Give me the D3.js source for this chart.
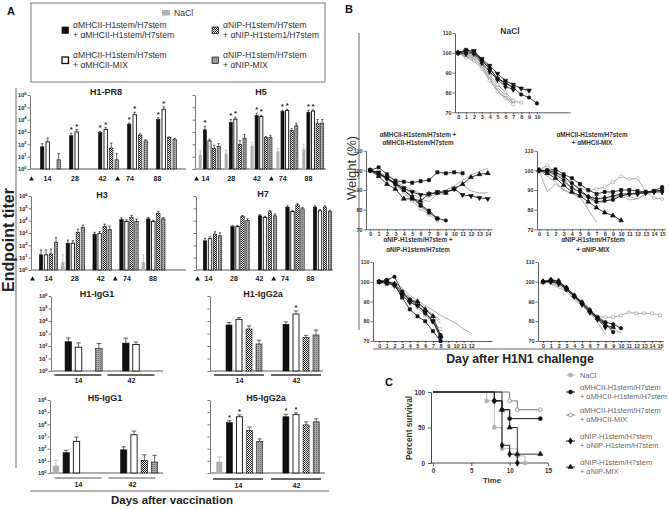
<!DOCTYPE html>
<html><head><meta charset="utf-8">
<script src="https://cdn.jsdelivr.net/npm/d3@7/dist/d3.min.js"></script>
<style>
html,body{margin:0;padding:0;background:#fff;}
svg{display:block;font-family:"Liberation Sans",Arial,Helvetica,sans-serif;-webkit-font-smoothing:antialiased;}
</style></head><body>
<svg id="fig" width="669" height="509" viewBox="0 0 669 509"></svg>
<script>
// ================= DATA =================
// Panel A: rows = NaCl, MHCII+MHCII, MHCII+MIX, NIP+NIP, NIP+MIX ; columns = days
const groupLegend = [
  ["NaCl"],
  ["αMHCII-H1stem/H7stem","+ αMHCII-H1stem/H7stem"],
  ["αMHCII-H1stem/H7stem","+ αMHCII-MIX"],
  ["αNIP-H1stem/H7stem","+ αNIP-H1stem1/H7stem"],
  ["αNIP-H1stem/H7stem","+ αNIP-MIX"]];
const daysLong = ["14","28","42","74","88"];
const daysShort = ["14","42"];
const titerTicks = [1,10,100,1e3,1e4,1e5,1e6];

const h1pr8 = [[null,null,null,null,null],[63,500,890,4300,10000],[160,1000,1600,25000,70000],[null,null,50,560,350],[5.6,null,5.6,190,250]];
const h1pr8Err = [[0,0,0,0,0],[0.25,0.2,0.1,0.1,0.15],[0.3,0.2,0.15,0.2,0.2],[0,0,0.4,0.1,0.05],[0.5,0,0.5,0.1,0.1]];
const h1pr8Stars = [[1,1],[2,1],[1,2],[2,2],[1,3],[2,3],[1,4],[2,4]];

const h5 = [[14,17,74,26,40],[1500,5900,21000,46000,40000],[190,11000,18000,55000,50000],[48,100,350,1300,5200],[65,320,380,3200,5200]];
const h5Err = [[0.35,0.3,0.3,0.25,0.4],[0.3,0.25,0.2,0.1,0.15],[0.15,0.15,0.1,0.1,0.1],[0.25,0.3,0.1,0.15,0.3],[0.25,0.3,0.15,0.2,0.3]];
const h5Stars = [[1,0],[1,1],[2,1],[1,2],[2,2],[1,3],[2,3],[1,4],[2,4]];

const h3 = [[null,4.2,null,null,4.2],[17,150,800,12000,14000],[17,150,900,8500,8500],[20,1150,3300,19000,40000],[180,2700,2000,8500,14000]];
const h3Err = [[0,0.6,0,0,0.6],[0.4,0.25,0.15,0.15,0.1],[0.4,0.2,0.15,0.15,0.1],[0.4,0.25,0.2,0.15,0.15],[0.4,0.2,0.25,0.2,0.1]];

const h7 = [[null,null,null,null,null],[230,3300,25000,126000,126000],[350,3300,18000,55000,63000],[800,21000,52000,190000,126000],[590,10000,25000,91000,55000]];
const h7Err = [[0,0,0,0,0],[0.2,0.1,0.1,0.1,0.1],[0.15,0.1,0.1,0.1,0.1],[0.2,0.1,0.1,0.1,0.1],[0.25,0.15,0.15,0.1,0.1]];

const h1IgG1 = [[null,null],[220,170],[80,130],[null,null],[63,null]];
const h1IgG1Err = [[0,0],[0.3,0.4],[0.35,0.2],[0,0],[0.4,0]];

const h1IgG2a = [[null,null],[4800,5400],[13500,36000],[2300,500],[145,760]];
const h1IgG2aErr = [[0,0],[0.2,0.2],[0.15,0.25],[0.25,0.15],[0.3,0.4]];
const h1IgG2aStars = [[2,1]];

const h5IgG1 = [[4,null],[47,80],[400,1400],[null,11],[null,8]];
const h5IgG1Err = [[0.45,0],[0.2,0.25],[0.35,0.3],[0,0.45],[0,0.55]];

const h5IgG2a = [[8.5,null],[14000,42000],[42000,63000],[3000,9000],[400,16000]];
const h5IgG2aErr = [[0.4,0],[0.15,0.2],[0.15,0.15],[0.3,0.25],[0.2,0.25]];
const h5IgG2aStars = [[1,0],[2,0],[1,1],[2,1]];

// Panel B: body weight (%) per mouse, index = day after challenge
const naclMice = [
  [100,100.5,100,96,92,87,84.5,82.5,79,77.5,74.5],
  [100,101,101,97,93.5,89.5,86,84,82,81],
  [100,101.5,100.5,96.5,92,87,85,82.5],
  [100,99.5,99.5,95,90.5,86.5,83,81.5],
  [100,98.5,97.5,93.5,88,82.5,78.5,75.5,75],
  [100,97.5,96,92,86,80.5,77,74],
  [100,98,97,93,87,81,77.5,75],
  [100,99,98.5,94.5,89,84,80,76]];
const mhcMice = [
  [100,101.5,98,94.7,94.2,93.7,94.5,95,99,98.5,99,98.5],
  [100,99,96,93.5,91,89,87.5,88,89,89,90.5,87.5,87,86,85.5],
  [100,98,96,93,90,86,82,78.5,75.5,74.5],
  [100,97,93,90.5,85.5,85.5,84.5,88,88.5,88.5,90.5,93,96.5,98,98.5],
  [100,98.5,96,93,90,86.5,82.5,79.5,75.5],
  [100,98,95.5,93,91,88,85.5,84,88,90,92,95,97.5,99.5,101],
  [100,99,97,94.5,92,90,88,86.5,88.5,90,91.5,92.5,89.5,88.5,88.5],
  [100,98,95.5,92.5,89,84.5,80.5,77.5,74.5]];
const mhcMixMice = [
  [100,100,100.5,98,96,93,90,88,89,89,90,90,89.5,89,89.5,90],
  [100,100,99,97,93.5,90,86.5,84,84.5,85,87,88,88.5,89,89.5,91.5],
  [100,98.5,96,92.5,89,87,84,81,78.5,77,74.5],
  [100,99.5,98,95,91,89,86.5,85.5,86,87,88,88,88,88.5,89,89],
  [100,102.5,99,96,93,91,89.5,90.5,91.5,94,97,95.5,96,89,86,85.5],
  [100,89,93,90,88.5,87.5,86,83,84,86,87,85,85.5,88,89.5,90],
  [100,97,94,90,88,86.5,80,73.5],
  [100,99,97,94,91,89,87,85.5,85.5,86.5,87.5,86.5,85.5,88,89,89.5]];
const nipMice = [
  [100,99,98.5,92,86,82.5,80,75,70],
  [100,100.5,98,93,89.5,88,84.5,80,71.5],
  [100,101,102.5,95,91,88,84,80,73],
  [100,100,99,94.5,90.5,90,86,82.5,72.5],
  [100,99.5,98.5,94,90,87,83,79.5,76],
  [100,100,99.5,97,93,90.5,88,85.5,83,81,79,76,74],
  [100,99,98,94,91,89,86,83,79],
  [100,100.5,99,95.5,92,89,86,83.5,80.5]];
const nipMixMice = [
  [100,100.5,99.5,96,92.5,89,85,81.5,79,74.5],
  [100,101,100.5,97,93,89.5,85.5,81.5,78,77],
  [100,101,100,97,93,89.5,85.5,82,79.5,78.5,76.5],
  [100,100,99,96.5,92.5,88.5,84.5,81,77],
  [100,100,99.5,97,93.5,90,86,82.5,82,82,83,84.5,84,84,84,83],
  [100,99,97,95,91,88,84,79.5,73.5],
  [100,99.5,98,96,92,89,85,81,78,76,74],
  [100,100,99,97,93,90,86,82.5,80]];
const weightTicks = [70,80,90,100,110];

// Panel C: Kaplan-Meier survival [day, percent]
const survNaCl   = [[0,100],[7,87.5],[8,50],[9,20],[11,10],[12,0]];
const survMhcMhc = [[0,100],[8,87.5],[9,75],[10,62.5],[14,62.5]];
const survMhcMix = [[0,100],[10,87.5],[11,75],[14,75]];
const survNipNip = [[0,100],[8,87.5],[9,25],[10,12.5],[11,0]];
const survNipMix = [[0,100],[9,75],[10,50],[11,12.5],[14,12.5]];
const survLegend = [["NaCl"],["αMHCII-H1stem/H7stem","+ αMHCII-H1stem/H7stem"],["αMHCII-H1stem/H7stem","+ αMHCII-MIX"],["αNIP-H1stem/H7stem","+ αNIP-H1stem/H7stem"],["αNIP-H1stem/H7stem","+ αNIP-MIX"]];

// ================= DRAWING =================
const svg = d3.select("#fig");
const defs = svg.append("defs");
const chk = defs.append("pattern").attr("id","chk").attr("width",2).attr("height",2).attr("patternUnits","userSpaceOnUse");
chk.append("rect").attr("width",2).attr("height",2).attr("fill","#fff");
chk.append("rect").attr("width",1).attr("height",1).attr("fill","#222");
chk.append("rect").attr("x",1).attr("y",1).attr("width",1).attr("height",1).attr("fill","#222");
const gd = defs.append("pattern").attr("id","gdot").attr("width",2).attr("height",2).attr("patternUnits","userSpaceOnUse");
gd.append("rect").attr("width",2).attr("height",2).attr("fill","#a6a6a6");
gd.append("rect").attr("width",1).attr("height",1).attr("fill","#6a6a6a");
const barFill = ["#b0b0b0","#111","#fff","url(#chk)","url(#gdot)"];

function txt(g, x, y, s, size, opts={}) {
  return g.append("text").attr("x",x).attr("y",y).text(s)
    .attr("font-size",size).attr("font-weight",opts.bold?"bold":"normal")
    .style("fill",opts.fill||"#222").attr("text-anchor",opts.anchor||"start");
}
function styleAxisText(sel,size,color){
  sel.attr("font-size",size).attr("font-weight","bold").attr("font-family",null).style("fill",color);
}

// ---- Panel A frame ----
const A = svg.append("g");
txt(A,7,15,"A",11,{bold:true,fill:"#111"});
A.append("rect").attr("x",31).attr("y",3).attr("width",294).attr("height",79).attr("fill","none").attr("stroke","#777").attr("stroke-width",1);
const legPos = [[162,8],[62,26],[62,56],[212,26],[212,56]];
groupLegend.forEach((lines,i)=>{
  const [lx,ly] = legPos[i];
  A.append("rect").attr("x",lx).attr("y",ly+(i===0?2:1)).attr("width",i===0?8:6.5).attr("height",i===0?5.5:6.5)
    .attr("fill",barFill[i]).attr("stroke",i===0?"none":"#111").attr("stroke-width",i===2?1.3:0.7);
  lines.forEach((s,k)=>txt(A,lx+(i===0?12:11),ly+(i===0?8:(k===0?2:12)),s,8.6,{fill:"#333"}));
});
A.append("line").attr("x1",16).attr("x2",16).attr("y1",88).attr("y2",468).attr("stroke","#9a9a9a").attr("stroke-width",1.5);
A.append("line").attr("x1",30).attr("x2",329).attr("y1",491).attr("y2",491).attr("stroke","#9a9a9a").attr("stroke-width",1.5);
txt(A,0,0,"Endpoint titer",16,{bold:true,anchor:"middle",fill:"#222"}).attr("transform","translate(14,240) rotate(-90)");
txt(A,172,504,"Days after vaccination",11.5,{bold:true,anchor:"middle",fill:"#222"});

function barChart(c){
  const g = svg.append("g");
  const y = d3.scaleLog().domain([1,1e6]).range([c.base,c.top]);
  const gx = d3.scalePoint().domain(c.groups).range([c.c0,c.c1]);
  const sx = d3.scalePoint().domain(d3.range(5)).range([-2*c.slot,2*c.slot]);
  const lx = d3.scalePoint().domain(c.groups).range([c.l0,c.l1]);
  const yg = g.append("g").attr("transform",`translate(${c.ax},0)`)
    .call(d3.axisLeft(y).tickValues(titerTicks).tickSize(2.5).tickSizeOuter(0).tickFormat(""));
  yg.select(".domain").attr("stroke","#555").attr("stroke-width",0.8);
  yg.selectAll(".tick line").attr("stroke","#555").attr("stroke-width",0.8);
  yg.selectAll(".tick text").remove();
  if(c.yLabels){
    yg.selectAll(".tick").each(function(d){
      const t = d3.select(this).append("text").attr("x",-3.5).attr("y",1.8).attr("text-anchor","end")
        .style("fill","#222").attr("font-size",5.6).attr("font-weight","bold");
      t.append("tspan").text("10");
      t.append("tspan").attr("dy",-2.6).attr("font-size",4).text(Math.round(Math.log10(d)));
    });
  }
  g.append("line").attr("x1",c.ax).attr("x2",c.axEnd).attr("y1",c.base).attr("y2",c.base).attr("stroke","#8f8f8f").attr("stroke-width",1.4);
  const cells=[];
  c.data.forEach((row,si)=>row.forEach((v,di)=>{ if(v!=null && v>1) cells.push({si,di,v,e:c.err[si][di]}); }));
  const bx = d=>gx(c.groups[d.di])+sx(d.si);
  const top = d=>y(d.v*Math.pow(10,d.e));
  g.selectAll("line.err").data(cells.filter(d=>d.e>0)).join("line")
    .attr("x1",bx).attr("x2",bx).attr("y1",d=>y(d.v)).attr("y2",top)
    .attr("stroke",d=>d.si===0?"#aaa":"#222").attr("stroke-width",0.7);
  g.selectAll("line.cap").data(cells.filter(d=>d.e>0)).join("line")
    .attr("x1",d=>bx(d)-c.bw*0.35).attr("x2",d=>bx(d)+c.bw*0.35).attr("y1",top).attr("y2",top)
    .attr("stroke",d=>d.si===0?"#aaa":"#222").attr("stroke-width",0.7);
  g.selectAll("rect.bar").data(cells).join("rect")
    .attr("x",d=>bx(d)-c.bw/2).attr("y",d=>y(d.v)).attr("width",c.bw).attr("height",d=>c.base-y(d.v))
    .attr("fill",d=>barFill[d.si]).attr("stroke",d=>d.si===0?"none":"#111").attr("stroke-width",d=>d.si===2?0.9:0.6);
  (c.stars||[]).forEach(([si,di])=>{
    const v=c.data[si][di], e=c.err[si][di];
    txt(g,gx(c.groups[di])+sx(si),y(v*Math.pow(10,e))-1,"*",7.5,{bold:true,anchor:"middle",fill:"#222"});
  });
  const xg = g.append("g").attr("transform",`translate(0,${c.labelY})`).call(d3.axisBottom(lx).tickSize(0));
  xg.select(".domain").remove();
  styleAxisText(xg.selectAll("text").attr("y",0).attr("dy","0.35em"),7,"#1a1a1a");
  if(c.mode==="arrow"){
    const ax = [c.ax+1.5,(lx(c.groups[2])+lx(c.groups[3]))/2+2];
    ax.forEach(x=>g.append("path").attr("d",d3.symbol(d3.symbolTriangle).size(10)()).attr("transform",`translate(${x},${c.labelY})`).attr("fill","#111"));
  } else {
    c.groups.forEach(k=>g.append("line").attr("x1",lx(k)-c.uhw).attr("x2",lx(k)+c.uhw).attr("y1",c.underY).attr("y2",c.underY).attr("stroke",c.uColor).attr("stroke-width",1.3));
  }
  txt(g,c.titleX,c.titleY,c.title,9,{bold:true,anchor:"middle",fill:"#222"});
}

barChart({title:"H1-PR8",titleX:106,titleY:95,data:h1pr8,err:h1pr8Err,stars:h1pr8Stars,groups:daysLong,
  ax:30,axEnd:186,base:169,top:95,c0:47.7,c1:163.7,l0:47,l1:157,slot:5.5,bw:3.4,yLabels:true,mode:"arrow",labelY:179});
barChart({title:"H5",titleX:261,titleY:95,data:h5,err:h5Err,stars:h5Stars,groups:daysLong,
  ax:195,axEnd:326,base:169,top:95,c0:209.5,c1:313,l0:205,l1:308,slot:4.6,bw:3.1,yLabels:false,mode:"arrow",labelY:179});
barChart({title:"H3",titleX:102,titleY:198,data:h3,err:h3Err,groups:daysLong,
  ax:31,axEnd:186,base:270,top:196,c0:46,c1:153.3,l0:48,l1:152.5,slot:5,bw:3.4,yLabels:true,mode:"arrow",labelY:279});
barChart({title:"H7",titleX:263,titleY:197,data:h7,err:h7Err,groups:daysLong,
  ax:196,axEnd:333,base:270,top:196,c0:210,c1:320,l0:208,l1:310,slot:5,bw:3.4,yLabels:false,mode:"arrow",labelY:279});
barChart({title:"H1-IgG1",titleX:97,titleY:297,data:h1IgG1,err:h1IgG1Err,groups:daysShort,
  ax:51,axEnd:163,base:371,top:296,c0:78.5,c1:136,l0:78,l1:131,slot:10.2,bw:6.5,yLabels:true,mode:"under",underY:375,uhw:23.5,uColor:"#333",labelY:381});
barChart({title:"H1-IgG2a",titleX:263,titleY:297,data:h1IgG2a,err:h1IgG2aErr,stars:h1IgG2aStars,groups:daysShort,
  ax:210,axEnd:323,base:371,top:296,c0:239,c1:296,l0:239,l1:296,slot:10,bw:6,yLabels:false,mode:"under",underY:375,uhw:25,uColor:"#333",labelY:381});
barChart({title:"H5-IgG1",titleX:105,titleY:401,data:h5IgG1,err:h5IgG1Err,groups:daysShort,
  ax:50,axEnd:163,base:473,top:400,c0:76.5,c1:134,l0:78,l1:132,slot:10.3,bw:6.3,yLabels:true,mode:"under",underY:478,uhw:23.5,uColor:"#8f8f8f",labelY:485});
barChart({title:"H5-IgG2a",titleX:266,titleY:401,data:h5IgG2a,err:h5IgG2aErr,stars:h5IgG2aStars,groups:daysShort,
  ax:210,axEnd:325,base:473,top:400,c0:239.5,c1:296,l0:238,l1:296,slot:10.1,bw:6,yLabels:false,mode:"under",underY:479,uhw:25,uColor:"#333",labelY:486});

// ---- Panel B ----
const B = svg.append("g");
txt(B,345,13,"B",11,{bold:true,fill:"#111"});
B.append("line").attr("x1",359).attr("x2",359).attr("y1",33).attr("y2",330).attr("stroke","#9a9a9a").attr("stroke-width",1.5);
B.append("line").attr("x1",373).attr("x2",662).attr("y1",349).attr("y2",349).attr("stroke","#9a9a9a").attr("stroke-width",1.5);
B.append("rect").attr("x",345).attr("y",134).attr("width",13).attr("height",70).attr("fill","#fff");
txt(B,0,0,"Weight (%)",13,{anchor:"middle",fill:"#333"}).attr("transform","translate(356,168) rotate(-90)");
txt(B,520,363,"Day after H1N1 challenge",12.3,{bold:true,anchor:"middle",fill:"#222"});

const symMap = {s:d3.symbolSquare,c:d3.symbolCircle,t:d3.symbolTriangle,v:d3.symbolTriangle,d:d3.symbolDiamond};
// style codes: first letter k=black filled / o=gray open / g=gray plain; second = marker shape
const naclStyle = ["kc","kv","ks","kd","os","oc","g","ot"];
const mhcStyle  = ["ks","kv","kc","kt","ks","g","g","os"];
const mhcMixStyle = ["ks","kc","kt","kd","oc","g","g","g"];
const nipStyle = ["ks","kv","kc","kt","os","g","g","g"];
const nipMixStyle = ["kc","kt","kc","kd","os","g","g","g"];

function lineChart(c){
  const g = svg.append("g");
  const x = d3.scaleLinear().domain(c.xDomain).range([c.ax,c.axEnd]);
  const y = d3.scaleLinear().domain([70,110]).range(c.yRange);
  const yg = g.append("g").attr("transform",`translate(${c.ax},0)`).call(d3.axisLeft(y).tickValues(weightTicks).tickSize(2.5).tickSizeOuter(0));
  const xg = g.append("g").attr("transform",`translate(0,${y(70)})`).call(d3.axisBottom(x).tickValues(d3.range(0,c.maxDay+1)).tickSize(2).tickSizeOuter(0).tickFormat(d3.format("d")));
  [yg,xg].forEach(a=>{a.select(".domain").attr("stroke","#333").attr("stroke-width",0.8);
    a.selectAll(".tick line").attr("stroke","#333").attr("stroke-width",0.7);
    styleAxisText(a.selectAll("text"),5.4,"#333");});
  yg.selectAll("text").attr("x",-3.5);
  xg.selectAll("text").attr("y",3).attr("dy","0.71em");
  const line = d3.line().x(d=>x(d[0])).y(d=>y(d[1]));
  const order = d3.range(c.mice.length).sort((a,b)=>(c.style[a][0]==="k")-(c.style[b][0]==="k"));
  order.forEach(i=>{
    const st = c.style[i]; const pts = c.mice[i].map((v,k)=>[k,v]);
    const black = st[0]==="k";
    g.append("path").attr("d",line(pts)).attr("fill","none").attr("stroke",black?"#111":"#a3a3a3").attr("stroke-width",black?0.8:0.9);
    if(st.length>1){
      const sym = d3.symbol(symMap[st[1]]).size(black?10:8);
      g.selectAll(null).data(pts).join("path").attr("d",sym())
        .attr("transform",d=>`translate(${x(d[0])},${y(d[1])})${st[1]==="v"?" rotate(180)":""}`)
        .attr("fill",black?"#111":"#fff").attr("stroke",black?"#111":"#999").attr("stroke-width",0.6);
    }
  });
  c.titles.forEach((s,k)=>txt(g,c.tx,c.ty[k],s,c.tsize,{bold:true,anchor:"middle",fill:"#333"}));
}

lineChart({titles:["NaCl"],tx:510,ty:[34],tsize:8.5,mice:naclMice,style:naclStyle,ax:455,axEnd:570,xDomain:[-0.4,14.2],yRange:[112.3,33],maxDay:10});
lineChart({titles:["αMHCII-H1stem/H7stem +","αMHCII-H1stem/H7stem"],tx:418,ty:[137,145],tsize:6.3,mice:mhcMice,style:mhcStyle,ax:366,axEnd:492,xDomain:[-0.5,14.5],yRange:[229.3,150.7],maxDay:14});
lineChart({titles:["αMHCII-H1stem/H7stem","+ αMHCII-MIX"],tx:592,ty:[137,145],tsize:6.3,mice:mhcMixMice,style:mhcMixStyle,ax:537,axEnd:665,xDomain:[-0.25,15.35],yRange:[229.3,150.7],maxDay:15});
lineChart({titles:["αNIP-H1stem/H7stem +","αNIP-H1stem/H7stem"],tx:418,ty:[242,252],tsize:6.3,mice:nipMice,style:nipStyle,ax:373,axEnd:492,xDomain:[-0.8,14.7],yRange:[341,262],maxDay:12});
lineChart({titles:["αNIP-H1stem/H7stem","+ αNIP-MIX"],tx:593,ty:[242,252],tsize:6.3,mice:nipMixMice,style:nipMixStyle,ax:538,axEnd:663,xDomain:[-0.65,15.4],yRange:[341,262],maxDay:15});

// ---- Panel C ----
const C = svg.append("g");
txt(C,385,386,"C",11,{bold:true,fill:"#111"});
const sx = d3.scaleLinear().domain([0,15]).range([433,548]);
const sy = d3.scaleLinear().domain([0,100]).range([463,392]);
const cyg = C.append("g").attr("transform","translate(431,0)").call(d3.axisLeft(sy).tickValues([0,50,100]).tickSize(3).tickSizeOuter(0));
const cxg = C.append("g").attr("transform","translate(0,463)").call(d3.axisBottom(sx).tickValues([0,5,10,15]).tickSize(3).tickSizeOuter(0));
cxg.select(".domain").attr("d","M431,0H548");
[cyg,cxg].forEach(a=>{a.select(".domain").attr("stroke","#333").attr("stroke-width",0.9);
  a.selectAll(".tick line").attr("stroke","#333").attr("stroke-width",0.8);
  styleAxisText(a.selectAll("text"),6.3,"#333");});
txt(C,492,483,"Time",7.8,{bold:true,anchor:"middle",fill:"#333"});
txt(C,0,0,"Percent survival",8.3,{bold:true,anchor:"middle",fill:"#333"}).attr("transform","translate(412,428) rotate(-90)");
const survSeries = [survNaCl,survMhcMhc,survMhcMix,survNipNip,survNipMix];
const survColor = ["#b5b5b5","#111","#777","#111","#333"];
const survSym = [d3.symbolSquare,d3.symbolCircle,d3.symbolCircle,d3.symbolDiamond,d3.symbolTriangle];
const survFill = ["#b5b5b5","#111","#fff","#111","#111"];
const step = d3.line().x(d=>sx(d[0])).y(d=>sy(d[1])).curve(d3.curveStepAfter);
survSeries.forEach((s,i)=>{
  C.append("path").attr("d",step(s)).attr("fill","none").attr("stroke",survColor[i]).attr("stroke-width",1);
  C.selectAll(null).data(s.slice(1)).join("path").attr("d",d3.symbol(survSym[i]).size(12)())
    .attr("transform",d=>`translate(${sx(d[0])},${sy(d[1])})`).attr("fill",survFill[i]).attr("stroke",survColor[i]).attr("stroke-width",0.7);
});
const legY = [375,392,415,441,467];
survLegend.forEach((lines,i)=>{
  C.append("line").attr("x1",566).attr("x2",575).attr("y1",legY[i]).attr("y2",legY[i]).attr("stroke",survColor[i]).attr("stroke-width",1);
  C.append("path").attr("d",d3.symbol(survSym[i]).size(12)()).attr("transform",`translate(570.5,${legY[i]})`).attr("fill",survFill[i]).attr("stroke",survColor[i]).attr("stroke-width",0.7);
  if(lines.length===1) txt(C,580,legY[i]+2.5,lines[0],7.4,{fill:"#666"});
  else lines.forEach((s,k)=>txt(C,580,legY[i]-2+k*8.5,s,7.4,{fill:"#666"}));
});
</script>
</body></html>
